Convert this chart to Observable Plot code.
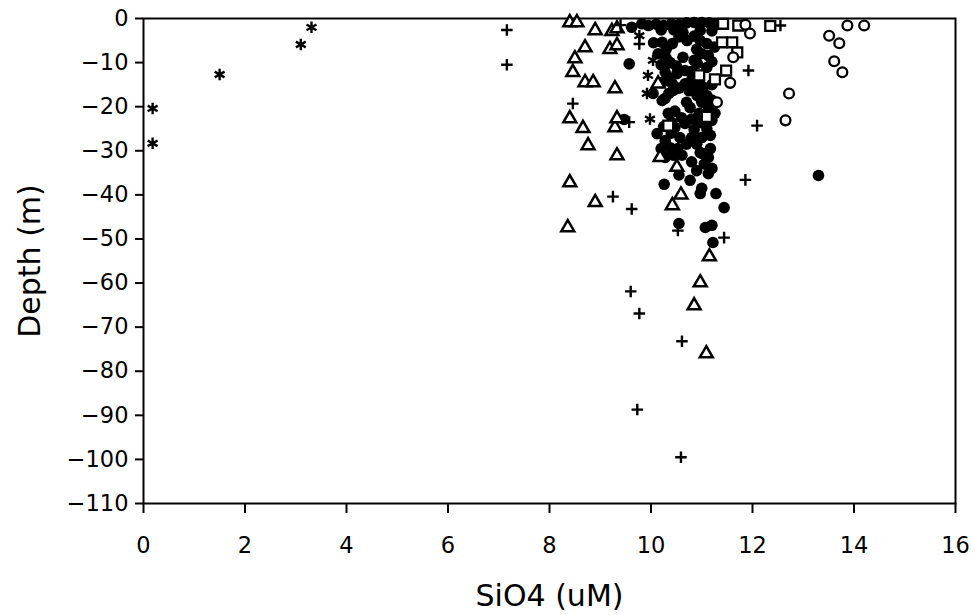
<!DOCTYPE html>
<html>
<head>
<meta charset="utf-8">
<script src="https://cdn.jsdelivr.net/npm/d3@7"></script>
<script src="https://cdn.jsdelivr.net/npm/@observablehq/plot@0.6"></script>
<style>
  html, body { margin: 0; padding: 0; background: white; }
  #chart { width: 975px; height: 615px; }
</style>
</head>
<body>
<div id="chart"></div>
<script>
// Data: [SiO4 (uM), Depth (m)]
const asteriskPts = [[0.18,-20.4],[0.18,-28.3],[1.5,-12.7],[3.1,-5.9],[3.31,-2],[9.77,-3.9],[10.04,-9.5],[9.94,-12.9],[9.92,-17],[9.98,-22.8]];
const plusPts = [[7.16,-2.6],[7.16,-10.5],[8.46,-19.3],[9.25,-40.4],[9.62,-43.2],[9.57,-23.5],[9.77,-5.8],[9.4,-1.5],[10.53,-48.1],[11.44,-49.7],[11.86,-36.6],[12.09,-24.3],[11.92,-11.8],[12.55,-1.6],[9.6,-61.9],[9.77,-66.9],[10.61,-73.2],[9.73,-88.7],[10.59,-99.5]];
const trianglePts = [[8.40,-0.9],[8.54,-0.9],[8.90,-2.7],[9.23,-2.9],[9.33,-2.3],[8.70,-6.6],[8.50,-9.1],[9.19,-7.0],[9.33,-6.1],[8.46,-12.2],[8.70,-14.5],[8.86,-14.5],[9.29,-15.9],[8.40,-22.7],[8.66,-24.9],[9.29,-24.7],[9.33,-22.7],[8.76,-28.8],[9.33,-31.1],[8.40,-37.2],[8.90,-41.7],[8.36,-47.4],[10.14,-14.8],[10.18,-31.5],[10.51,-33.7],[10.59,-40],[10.42,-42.4],[11.15,-54],[10.97,-59.9],[10.85,-65.1],[11.09,-76]];
const openCirclePts = [[13.87,-1.6],[14.2,-1.6],[13.51,-3.9],[13.71,-5.6],[13.61,-9.7],[13.77,-12.2],[12.72,-17],[12.65,-23.1],[11.86,-1.4],[11.95,-3.4],[11.62,-8.8],[11.56,-14.6],[11.30,-19]];
const squarePts = [[11.42,-1.2],[11.72,-1.6],[12.35,-1.7],[11.40,-5.4],[11.60,-5.4],[11.70,-7.7],[11.48,-11.8],[11.26,-13.8],[10.95,-12.9],[10.34,-24.3],[11.1,-22.3]];
const filledPts = [
  [9.62,-2],[9.82,-1.2],[9.95,-1.6],[10.1,-1.3],[10.25,-1.6],[10.4,-1.2],[10.55,-1.4],[10.7,-1],[10.85,-0.9],[11.0,-0.9],[11.15,-1],[11.28,-1.2],
  [10.2,-2.6],[10.45,-2.6],[10.63,-3.2],[10.97,-2.7],[11.2,-2.8],[10.55,-4.2],[10.85,-4],
  [10.05,-5.5],[10.22,-5.4],[10.42,-5.7],[10.71,-5],[10.97,-5],[11.1,-5.7],[11.25,-6.5],[10.3,-7],[10.9,-7],
  [10.14,-8],[10.3,-9],[10.38,-10],[10.63,-8.8],[11.0,-8],[11.13,-8.4],[10.85,-9.5],[11.2,-9.8],[10.5,-10.8],[10.2,-10.5],
  [10.91,-10.2],[11.1,-11.1],[10.28,-12.2],[10.51,-12.5],[10.67,-11.8],[10.8,-12],[10.22,-14.5],[10.42,-14.8],[10.67,-14.8],[10.81,-13.6],[10.95,-14],[10.35,-13.5],[11.03,-15.6],[11.2,-15],[10.55,-15.8],[10.85,-15.5],
  [10.04,-17],[10.28,-18.1],[10.44,-16.3],[10.35,-17],[10.75,-16.4],[10.97,-16.3],[10.91,-17.5],[11.1,-17.5],[10.22,-18.6],[10.7,-19],[11.0,-19],[11.2,-18.5],
  [10.47,-21],[10.77,-20.2],[11.13,-20.2],[11.26,-21.5],[10.34,-21.5],[10.95,-21.5],[10.6,-22.5],[10.8,-22.8],[10.4,-23.5],
  [10.47,-24.7],[10.67,-23.8],[10.97,-23.6],[11.2,-23.1],[10.25,-24.5],[10.85,-25.2],[11.1,-25],[10.4,-26],[10.12,-26.1],[10.28,-27.7],[10.57,-27],[10.8,-27],[11.0,-27],[11.17,-26.5],
  [10.7,-28.5],[10.9,-28.5],[10.2,-29.5],[10.38,-29.3],[10.53,-29.5],[10.97,-30.4],[11.17,-29.5],[10.28,-31.5],[10.44,-31],[10.61,-31],[11.0,-30.6],[11.13,-31.5],
  [10.8,-32.5],[11.05,-33],[11.2,-34],[10.9,-34.5],[11.13,-35.2],[10.55,-35.5],[10.77,-36.7],[10.26,-37.6],[11.0,-38.5],[10.97,-39.7],[11.28,-39.7],[11.44,-42.9],
  [10.55,-46.5],[11.07,-47.4],[11.2,-46.9],[11.22,-50.8],
  [13.3,-35.6],[9.57,-10.3],[9.47,-22.9]
];
const xTicks = [0,2,4,6,8,10,12,14,16];
const yTicks = [0,-10,-20,-30,-40,-50,-60,-70,-80,-90,-100,-110];
const xTitle = "SiO4 (uM)";
const yTitle = "Depth (m)";

const toRows = (pts) => pts.map(([x, y]) => ({x, y}));

const chart = Plot.plot({
  width: 975,
  height: 615,
  marginLeft: 143,
  marginRight: 20,
  marginTop: 18,
  marginBottom: 112,
  style: {fontFamily: "DejaVu Sans", fontSize: "22.5px", color: "black", background: "white"},
  x: {domain: [0, 16], label: null},
  y: {domain: [-110, 0], label: null},
  marks: [
    Plot.frame({stroke: "black", strokeWidth: 2}),
    Plot.dot(toRows(filledPts), {x: "x", y: "y", r: 5.8, fill: "black", stroke: "none"}),
    Plot.dot(toRows(trianglePts), {x: "x", y: "y", symbol: "triangle", r: 4.8, fill: "white", stroke: "black", strokeWidth: 2.5}),
    Plot.dot(toRows(squarePts), {x: "x", y: "y", symbol: "square", r: 5.6, fill: "white", stroke: "black", strokeWidth: 2.3}),
    Plot.dot(toRows(openCirclePts), {x: "x", y: "y", symbol: "circle", r: 4.9, fill: "white", stroke: "black", strokeWidth: 2.3}),
    Plot.dot(toRows(plusPts), {x: "x", y: "y", symbol: "plus", r: 3.8, stroke: "black", strokeWidth: 2.4}),
    Plot.dot(toRows(asteriskPts), {x: "x", y: "y", symbol: "asterisk", r: 5.4, stroke: "black", strokeWidth: 2.4}),
    Plot.axisX({ticks: xTicks, tickSize: 10, tickPadding: 24, label: null, strokeWidth: 2, tickFormat: d3.format("d")}),
    Plot.axisY({ticks: yTicks, tickSize: 8, tickPadding: 7, label: null, strokeWidth: 2, tickFormat: d3.format("d")}),
    Plot.text([xTitle], {frameAnchor: "bottom", lineAnchor: "middle", textAnchor: "middle", dy: 93, fontSize: 30, fill: "black"}),
    Plot.text([yTitle], {frameAnchor: "left", lineAnchor: "middle", textAnchor: "middle", dx: -113, rotate: -90, fontSize: 30, fill: "black"})
  ]
});
document.getElementById("chart").appendChild(chart);
</script>
</body>
</html>
